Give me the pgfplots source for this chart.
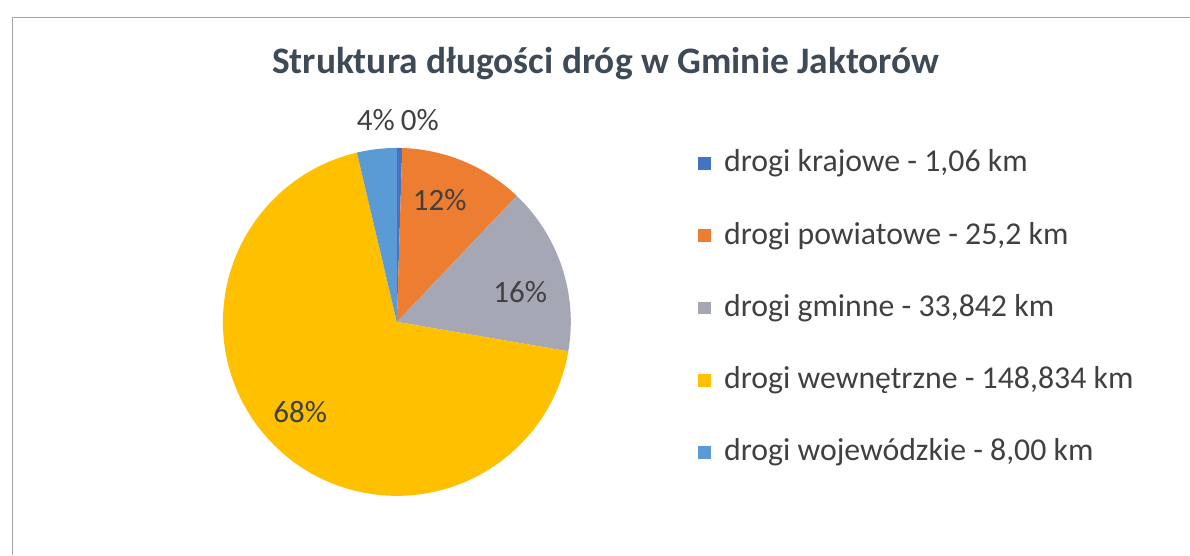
\documentclass[border=0pt]{standalone}
\usepackage{pgfplots}
\usepackage{pgfplotstable}
\pgfplotsset{compat=1.18}
\usepackage{fontspec}
\setmainfont{Carlito}

\definecolor{ckraj}{HTML}{4472C4}
\definecolor{cpow}{HTML}{ED7D31}
\definecolor{cgmi}{HTML}{A5A8B4}
\definecolor{cwew}{HTML}{FFC000}
\definecolor{cwoj}{HTML}{5B9BD5}
\definecolor{ctxt}{HTML}{404040}
\definecolor{ctitle}{HTML}{3F4A57}

% value; colour; shown percent; label radius (px); label angle shift; legend text
\pgfplotstableread[col sep=semicolon,row sep=\\]{
value;color;pct;lr;loff;name\\
1.06;ckraj;0;203;-5.6;drogi krajowe - 1,06 km\\
25.2;cpow;12;129;3.3;drogi powiatowe - 25,2 km\\
33.842;cgmi;16;127;-4.6;drogi gminne - 33,842 km\\
148.834;cwew;68;132;-3.9;drogi wewnętrzne - 148,834 km\\
8.00;cwoj;4;203;-0.7;drogi wojewódzkie - 8,00 km\\
}\roads

\begin{document}
\begin{tikzpicture}
\def\total{0}
\pgfplotsforeachungrouped \i in {0,...,4}{%
  \pgfplotstablegetelem{\i}{value}\of\roads
  \pgfmathsetmacro\total{\total+\pgfplotsretval}%
}
\begin{axis}[
    hide axis,
    scale only axis,
    width=595pt,
    height=277.5pt,
    xmin=0, xmax=1190,
    ymin=0, ymax=555,
    enlargelimits=false,
    clip=false,
    ]
\addplot[draw=none] coordinates {(0,0) (1190,555)};
% frame
\draw[black!35] (axis cs:12,0) -- (axis cs:12,538) -- (axis cs:1190,538);
% title
\node[ctitle, font=\fontsize{18.7}{22}\selectfont\bfseries] at (axis cs:606,491)
  {Struktura długości dróg w Gminie Jaktorów};
\def\astart{90}
\pgfplotsforeachungrouped \i in {0,...,4}{%
  \pgfplotstablegetelem{\i}{value}\of\roads \let\sval\pgfplotsretval
  \pgfplotstablegetelem{\i}{color}\of\roads \let\scol\pgfplotsretval
  \pgfplotstablegetelem{\i}{pct}\of\roads \let\spct\pgfplotsretval
  \pgfplotstablegetelem{\i}{lr}\of\roads \let\slr\pgfplotsretval
  \pgfplotstablegetelem{\i}{loff}\of\roads \let\sloff\pgfplotsretval
  \pgfplotstablegetelem{\i}{name}\of\roads \let\sname\pgfplotsretval
  \pgfmathsetmacro\afrac{\sval/\total}%
  \pgfmathsetmacro\aend{\astart-360*\afrac}%
  \pgfmathsetmacro\amid{(\astart+\aend)/2+\sloff}%
  \pgfmathsetmacro\lx{397+\slr*cos(\amid)}%
  \pgfmathsetmacro\ly{233+\slr*sin(\amid)}%
  \pgfmathsetmacro\ry{391.5-72.3*\i}%
  \edef\cmd{%
    \noexpand\fill[\scol] (axis cs:397,233) -- ++(\astart:87pt)
      arc[start angle=\astart, end angle=\aend, radius=87pt] -- cycle;
    \noexpand\node[ctxt, font=\noexpand\fontsize{15.5}{18}\noexpand\selectfont]
      at (axis cs:\lx,\ly) {\spct\noexpand\%};
    \noexpand\fill[\scol] (axis cs:705,\ry) ++(-3.2pt,-3.2pt) rectangle ++(6.4pt,6.4pt);
    \noexpand\node[ctxt, anchor=west, inner sep=0pt,
      font=\noexpand\fontsize{15.9}{18}\noexpand\selectfont]
      at (axis cs:724,\ry) {\sname};
  }\cmd
  \let\astart\aend
}
\end{axis}
\end{tikzpicture}
\end{document}
